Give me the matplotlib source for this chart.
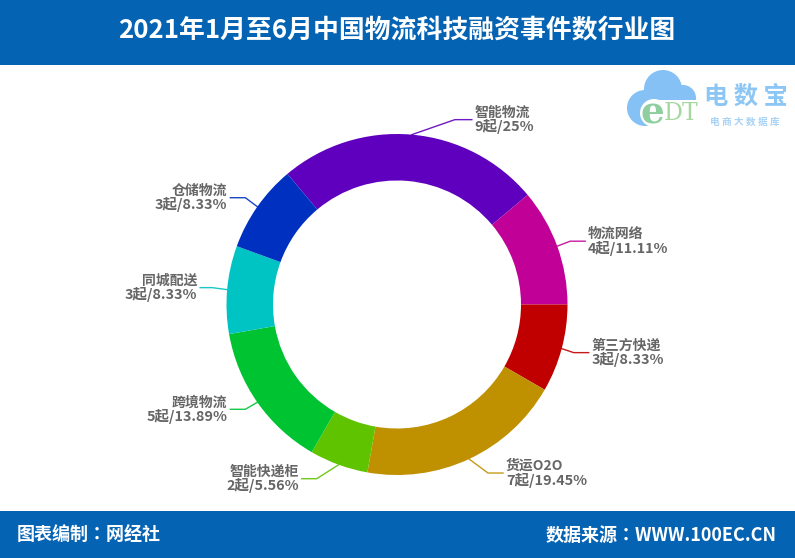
import numpy as np
from matplotlib import pyplot as plt
from matplotlib.patches import Circle, Rectangle

plt.rcParams['font.family'] = ['Noto Sans CJK SC', 'DejaVu Sans']

names = ["智能物流", "物流网络", "第三方快递", "货运O2O", "智能快递柜", "跨境物流", "同城配送", "仓储物流"]
counts = [9, 4, 3, 7, 2, 5, 3, 3]
shares = ["25%", "11.11%", "8.33%", "19.45%", "5.56%", "13.89%", "8.33%", "8.33%"]
colors = ["#5f00bf", "#c00096", "#c00000", "#bf9000", "#60c300", "#00c332", "#00c3c3", "#0030c0"]
title = "2021年1月至6月中国物流科技融资事件数行业图"
footer_left = "图表编制：网经社"
footer_right = "数据来源：WWW.100EC.CN"


class RingViz:
    def __init__(self,filename="out.png"):
        # Axes spans the whole figure, so one unit is one pixel. y runs up, H - y is the picture row.
        self.H = 558
        fig, ax = plt.subplots(1,1,figsize=(7.95,5.58),dpi=100)
        ax.set_position([0,0,1,1])

        self.center = (397, self.H - 304.5)
        self.radius = 170.5

        self.draw_bands(ax)
        wedges, _ = ax.pie(counts, colors=colors, startangle=130, counterclock=False, center=self.center,
                           radius=self.radius, frame=True, wedgeprops=dict(width=46.5, linewidth=0))
        ax.set_xlim(0, 795) # pie resets the limits
        ax.set_ylim(0, self.H)
        ax.axis('off')
        self.draw_labels(ax, wedges)
        self.draw_logo(ax)

        fig.savefig(filename, dpi=100)

    def draw_bands(self,ax):
        """the blue header and footer with their texts"""
        ax.add_patch(Rectangle((0, self.H - 65), 795, 65, color="#0563b4", linewidth=0))
        ax.add_patch(Rectangle((0, 0), 795, 47, color="#0563b4", linewidth=0))
        ax.text(397, self.H - 31, title, color="white", fontsize=18.6, fontweight="bold", ha="center", va="center")
        ax.text(17, self.H - 535, footer_left, color="white", fontsize=13, fontweight="bold", ha="left", va="center",
                family=['Noto Sans CJK TC', 'DejaVu Sans'])
        ax.text(777, self.H - 535, footer_right, color="white", fontsize=13, fontweight="bold", ha="right", va="center",
                family=['Noto Sans CJK TC', 'DejaVu Sans'])

    def draw_labels(self,ax,wedges):
        """leader lines start on the wedge middle, then an elbow and a flat run"""
        # elbow offset from the rim (picture pixels, down is positive) and the flat run, per slice
        elbow = [(43, -15), (13, -5), (12, 4), (19, 14), (-22, 14), (-12, 7), (-15, -2), (-12, -9)]
        run = [17, 15, 15, 15, 15, 15, 12, 15]
        for i, w in enumerate(wedges):
            ang = np.deg2rad((w.theta1 + w.theta2) / 2)
            x0 = self.center[0] + self.radius * np.cos(ang)
            y0 = self.center[1] + self.radius * np.sin(ang)
            x1 = x0 + elbow[i][0]
            y1 = y0 - elbow[i][1]
            side = 1 if elbow[i][0] > 0 else -1
            x2 = x1 + side * run[i]
            ax.plot([x0, x1, x2], [y0, y1, y1], color=colors[i], linewidth=1, alpha=0.9, solid_joinstyle='miter')
            ha = 'left' if side > 0 else 'right'
            ax.text(x2 + side * 3, y1 + 7, names[i], color="#666666", fontsize=10, fontweight="bold", ha=ha, va="center")
            ax.text(x2 + side * 3, y1 - 7, "%d起/%s" % (counts[i], shares[i]), color="#666666", fontsize=10.4,
                    fontweight="bold", ha=ha, va="center")

    def draw_logo(self,ax):
        """rough redraw of the watermark in the top right corner"""
        for xy, r in [((663, 89), 19), ((645, 108), 18), ((683, 98), 13)]:
            ax.add_patch(Circle((xy[0], self.H - xy[1]), r, color="#85c1f5", linewidth=0))
        ax.add_patch(Circle((654, self.H - 113), 14, color="white", linewidth=0))
        ax.add_patch(Rectangle((655, self.H - 130), 42, 30, color="white", linewidth=0))
        ax.text(652, self.H - 113, "e", color="#8fcf9f", fontsize=27, fontweight="bold", family="DejaVu Serif", ha="center", va="center")
        ax.text(681, self.H - 114, "DT", color="#a5d8a0", fontsize=17, family="DejaVu Serif", ha="center", va="center")
        ax.text(746, self.H - 97, "电 数 宝", color="#8cc6f5", fontsize=17.5, fontweight="bold", ha="center", va="center")
        ax.text(745, self.H - 122, "电 商 大 数 据 库", color="#a9d3f5", fontsize=7, fontweight="bold", ha="center", va="center")


if __name__ == "__main__":
    _ = RingViz(filename="out.png")
